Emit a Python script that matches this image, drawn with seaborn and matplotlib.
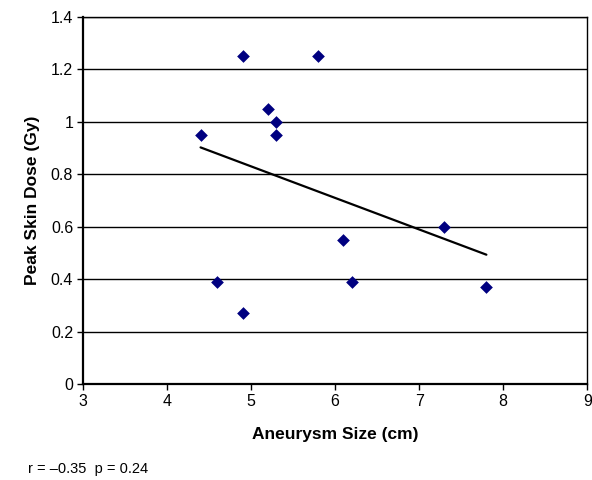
import numpy as np
import pandas as pd
import matplotlib
matplotlib.use("Agg")
import matplotlib.pyplot as plt
import seaborn as sns

# ── Data ──────────────────────────────────────────────────────────
aneurysm_cm = [4.4, 4.6, 4.9, 4.9, 5.2, 5.3, 5.3, 5.8, 6.1, 6.2, 7.3, 7.8]
peak_dose_gy = [0.95, 0.39, 1.25, 0.27, 1.05, 1.0, 0.95, 1.25, 0.55, 0.39, 0.60, 0.37]
x_ticks = [3, 4, 5, 6, 7, 8, 9]
y_ticks = [0, 0.2, 0.4, 0.6, 0.8, 1, 1.2, 1.4]
y_tick_labels = ["0", "0.2", "0.4", "0.6", "0.8", "1", "1.2", "1.4"]
note = "r = \u20130.35  p = 0.24"

df = pd.DataFrame({"size": aneurysm_cm, "dose": peak_dose_gy})

sns.set_theme(style="white")
plt.rcParams["font.family"] = ["Liberation Sans", "DejaVu Sans"]
plt.rcParams["text.color"] = "black"
plt.rcParams["axes.labelcolor"] = "black"
plt.rcParams["xtick.color"] = "black"
plt.rcParams["ytick.color"] = "black"

fig = plt.figure(figsize=(5.92, 4.8), dpi=100)
ax = fig.add_axes([0.140, 0.200, 0.852, 0.765])

# horizontal gridlines
for yv in y_ticks[1:]:
    ax.axhline(yv, color="black", lw=1.0, zorder=0)

sns.regplot(data=df, x="size", y="dose", ax=ax, ci=None, scatter=False,
            line_kws={"color": "black", "lw": 1.6})
sns.scatterplot(data=df, x="size", y="dose", ax=ax, marker="D", s=42,
                color="#000080", edgecolor="#000080", linewidth=0, zorder=3)

ax.set_xlim(3, 9)
ax.set_ylim(0, 1.4)
ax.set_xticks(x_ticks)
ax.set_yticks(y_ticks)
ax.set_yticklabels(y_tick_labels)
ax.tick_params(axis="both", direction="out", length=4, width=1,
               color="black", labelcolor="black", labelsize=11.5,
               bottom=True, left=True, pad=3)
ax.set_xlabel("Aneurysm Size (cm)", fontsize=12.5, fontweight="bold",
              labelpad=13, color="black")
ax.set_ylabel("Peak Skin Dose (Gy)", fontsize=12.5, fontweight="bold",
              labelpad=8, color="black")

for side in ["left", "bottom"]:
    ax.spines[side].set_color("black")
    ax.spines[side].set_linewidth(1.6)
for side in ["top", "right"]:
    ax.spines[side].set_color("black")
    ax.spines[side].set_linewidth(1.0)

fig.text(0.047, 0.008, note, fontsize=10.5, ha="left", va="bottom",
         color="black")

fig.savefig("out.png", dpi=100)
